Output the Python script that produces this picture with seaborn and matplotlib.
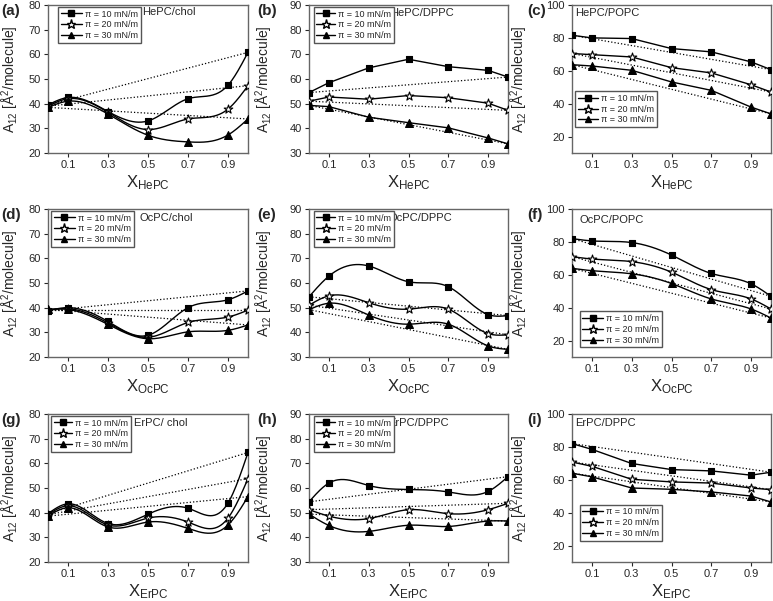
import numpy as np
import matplotlib
matplotlib.use("Agg")
import matplotlib.pyplot as plt
from matplotlib.lines import Line2D
import seaborn as sns

sns.set_style("ticks")
plt.rcParams['font.family'] = ['Liberation Sans', 'DejaVu Sans']
plt.rcParams['mathtext.fontset'] = 'custom'
plt.rcParams['mathtext.rm'] = 'Liberation Sans'
plt.rcParams['mathtext.it'] = 'Liberation Sans:italic'

x_frac = [0.0, 0.1, 0.3, 0.5, 0.7, 0.9, 1.0]
press_labels = ["π = 10 mN/m", "π = 20 mN/m", "π = 30 mN/m"]

# (a) HePC/chol
a_10 = [39.5, 42.5, 36.8, 33.0, 42.0, 47.5, 60.8]
a_20 = [39.0, 42.0, 36.5, 29.5, 33.8, 37.8, 47.3]
a_30 = [38.5, 41.0, 35.8, 27.2, 24.5, 27.3, 33.8]
# (b) HePC/DPPC
b_10 = [54.5, 58.5, 64.5, 68.0, 65.0, 63.5, 60.8]
b_20 = [51.0, 52.7, 51.8, 53.3, 52.4, 50.2, 47.3]
b_30 = [49.3, 48.8, 44.5, 42.3, 40.2, 36.1, 33.7]
# (c) HePC/POPC
c_10 = [81.6, 80.0, 79.6, 73.5, 71.5, 65.4, 60.7]
c_20 = [70.5, 69.8, 68.4, 61.9, 58.7, 51.5, 47.1]
c_30 = [63.7, 62.9, 60.3, 53.2, 48.1, 37.9, 33.8]
# (d) OcPC/chol
d_10 = [38.8, 40.0, 34.4, 28.8, 40.0, 43.2, 46.8]
d_20 = [39.0, 39.6, 33.8, 28.0, 34.0, 36.2, 39.0]
d_30 = [39.3, 39.3, 33.2, 27.4, 30.2, 30.8, 33.0]
# (e) OcPC/DPPC
e_10 = [54.4, 62.8, 66.9, 60.5, 58.5, 47.2, 46.8]
e_20 = [51.0, 54.8, 52.0, 49.4, 49.4, 39.5, 39.0]
e_30 = [49.2, 51.8, 47.0, 43.3, 43.3, 34.5, 33.1]
# (f) OcPC/POPC
f_10 = [82.0, 80.6, 79.6, 72.0, 60.8, 54.5, 46.9]
f_20 = [71.0, 69.6, 68.0, 61.6, 51.0, 45.3, 39.2]
f_30 = [63.9, 62.5, 60.6, 54.7, 45.3, 39.2, 33.7]
# (g) ErPC/chol
g_10 = [39.6, 43.6, 35.6, 39.4, 41.8, 43.9, 64.4]
g_20 = [39.2, 42.8, 35.0, 37.8, 36.2, 37.8, 53.8]
g_30 = [38.6, 42.0, 34.2, 36.2, 33.6, 35.0, 46.5]
# (h) ErPC/DPPC
h_10 = [54.4, 62.0, 61.0, 59.4, 58.4, 58.6, 64.6]
h_20 = [51.2, 48.6, 47.6, 51.2, 49.6, 51.2, 53.8]
h_30 = [49.4, 44.8, 42.4, 44.9, 44.4, 46.6, 46.6]
# (i) ErPC/DPPC
i_10 = [82.0, 78.5, 69.9, 66.2, 65.4, 62.8, 64.6]
i_20 = [70.8, 68.2, 60.3, 58.7, 58.0, 55.0, 54.0]
i_30 = [64.0, 61.8, 55.0, 54.2, 52.6, 50.1, 46.5]

panels = [
    ("(a)", "HePC", "HePC/chol", [a_10, a_20, a_30], (20, 80, 10), True),
    ("(b)", "HePC", "HePC/DPPC", [b_10, b_20, b_30], (30, 90, 10), False),
    ("(c)", "HePC", "HePC/POPC", [c_10, c_20, c_30], (10, 100, 20), False),
    ("(d)", "OcPC", "OcPC/chol", [d_10, d_20, d_30], (20, 80, 10), True),
    ("(e)", "OcPC", "OcPC/DPPC", [e_10, e_20, e_30], (30, 90, 10), True),
    ("(f)", "OcPC", "OcPC/POPC", [f_10, f_20, f_30], (10, 100, 20), True),
    ("(g)", "ErPC", "ErPC/ chol", [g_10, g_20, g_30], (20, 80, 10), True),
    ("(h)", "ErPC", "ErPC/DPPC", [h_10, h_20, h_30], (30, 90, 10), True),
    ("(i)", "ErPC", "ErPC/DPPC", [i_10, i_20, i_30], (10, 100, 20), False),
]


def smooth(xs, ys, n=200):
    # natural cubic spline through the measured points (line style only)
    xs = np.asarray(xs, float)
    ys = np.asarray(ys, float)
    k = len(xs)
    h = np.diff(xs)
    A = np.zeros((k, k))
    r = np.zeros(k)
    A[0, 0] = A[-1, -1] = 1
    for j in range(1, k - 1):
        A[j, j - 1] = h[j - 1]
        A[j, j] = 2 * (h[j - 1] + h[j])
        A[j, j + 1] = h[j]
        r[j] = 3 * ((ys[j + 1] - ys[j]) / h[j] - (ys[j] - ys[j - 1]) / h[j - 1])
    c = np.linalg.solve(A, r)
    b = (ys[1:] - ys[:-1]) / h - h * (2 * c[:-1] + c[1:]) / 3
    d = (c[1:] - c[:-1]) / (3 * h)
    xx = np.linspace(xs[0], xs[-1], n)
    idx = np.clip(np.searchsorted(xs, xx, side='right') - 1, 0, k - 2)
    t = xx - xs[idx]
    yy = ys[idx] + b[idx] * t + c[idx] * t ** 2 + d[idx] * t ** 3
    return xx, yy


W, H = 773, 601
fig = plt.figure(figsize=(W / 100, H / 100), dpi=100)

col_x = [(48, 248), (309, 508), (572, 771)]
row_y = [(5, 153), (209, 357), (414, 562)]
ylab_x = [-0.135, -0.17, -0.21]
lab_x = [1, 257, 527]
comp_pos = [(0.47, 0.95), (0.41, 0.945), (0.015, 0.945),
            (0.46, 0.94), (0.40, 0.94), (0.04, 0.925),
            (0.43, 0.94), (0.40, 0.94), (0.015, 0.94)]
leg_pos = [(0.04, 1.0), (0.015, 1.0), (0.005, 0.43),
           (0.005, 1.0), (0.015, 1.0), (0.03, 0.32),
           (0.005, 1.0), (0.015, 1.0), (0.03, 0.40)]
leg_hl = [2.4, 2.1, 2.3, 2.4, 2.1, 2.3, 2.1, 2.1, 2.3]

markers = [('s', 'black', 24), ('*', 'white', 42), ('^', 'black', 32)]

for n, (tag, sub, comp, series, (ylo, yhi, ystep), curved) in enumerate(panels):
    r, cidx = divmod(n, 3)
    x0, x1 = col_x[cidx]
    y0, y1 = row_y[r]
    ax = fig.add_axes([x0 / W, 1 - y1 / H, (x1 - x0) / W, (y1 - y0) / H])

    for vals, (mk, fc, sz) in zip(series, markers):
        # ideal mixing line
        sns.lineplot(x=[x_frac[0], x_frac[-1]], y=[vals[0], vals[-1]], ax=ax,
                     color='black', lw=0.9, linestyle=':', estimator=None)
        if curved:
            xx, yy = smooth(x_frac, vals)
        else:
            xx, yy = x_frac, vals
        sns.lineplot(x=xx, y=yy, ax=ax, color='black', lw=1.0, sort=False, estimator=None)
        sns.scatterplot(x=x_frac, y=vals, ax=ax, marker=mk, s=sz, color=fc,
                        edgecolor='black', linewidth=0.8, zorder=4)

    ax.set_xlim(0, 1)
    ax.set_ylim(ylo, yhi)
    ax.set_xticks([0.1, 0.3, 0.5, 0.7, 0.9])
    ax.set_xticklabels(['0.1', '0.3', '0.5', '0.7', '0.9'])
    yt = list(range(ylo if ystep == 10 else 20, yhi + 1, ystep))
    ax.set_yticks(yt)
    ax.tick_params(axis='both', labelsize=8, length=3, width=0.8, direction='out', pad=2)
    for sp in ax.spines.values():
        sp.set_color('#666666')
        sp.set_linewidth(1.0)

    ax.set_xlabel(r'X$_{\mathregular{' + sub + '}}$', fontsize=12)
    ax.xaxis.set_label_coords(0.5, -0.14)
    ax.set_ylabel(r'A$_{12}$ [Å$^{2}$/molecule]', fontsize=10)
    ax.yaxis.set_label_coords(ylab_x[cidx], 0.5)

    handles = [Line2D([], [], color='black', lw=1.0, marker=mk, mfc=fc, mec='black',
                      ms=(4.5 if mk == 's' else 6.5 if mk == '*' else 5))
               for mk, fc, sz in markers]
    ax.legend(handles, press_labels, loc='upper left', bbox_to_anchor=leg_pos[n],
              fontsize=6.5, handlelength=leg_hl[n], borderpad=0.3, labelspacing=0.2,
              handletextpad=0.3, borderaxespad=0.2, frameon=True, fancybox=False,
              edgecolor='#555555', framealpha=1)

    cx, cy = comp_pos[n]
    ax.text(cx, cy, comp, transform=ax.transAxes, fontsize=8, ha='left', va='center')

    fig.text(lab_x[cidx] / W, 1 - (y0 - 1) / H, tag, fontsize=11, fontweight='bold',
             ha='left', va='top')

fig.savefig('out.png', dpi=100)
